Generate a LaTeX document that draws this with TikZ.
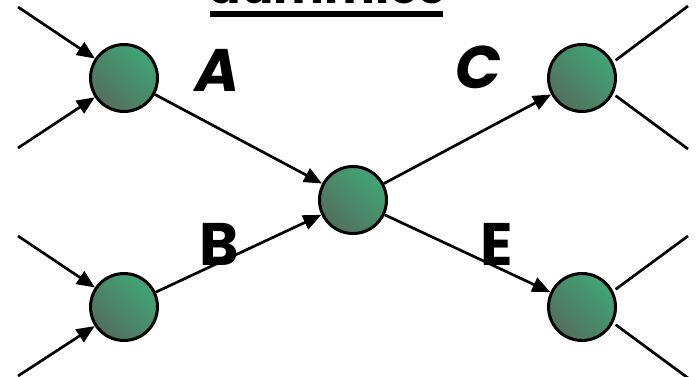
\documentclass[tikz,border=0pt]{standalone}
\usepackage{fontspec}
\setmainfont{Poppins}
\usetikzlibrary{arrows.meta}
\definecolor{glight}{RGB}{64,165,118}
\definecolor{gdark}{RGB}{84,110,94}
\tikzset{
  state/.style={circle, draw=black, line width=3pt, minimum size=67pt, inner sep=0pt,
    shading=axis, top color=glight, bottom color=gdark, shading angle=-45},
  arc/.style={line width=2.7pt, -{Triangle[length=18pt,width=15pt]}},
  plain/.style={line width=2.7pt},
  lbl/.style={font=\fontsize{60}{66}\selectfont\bfseries, anchor=base, inner sep=0pt},
  lbli/.style={lbl, font=\fontsize{60}{66}\selectfont\bfseries\itshape},
}
\begin{document}
\begin{tikzpicture}[x=1pt,y=-1pt]
\useasboundingbox (0,0) rectangle (698,377);
\clip (0,0) rectangle (698,377);
% title (cut off)
\node[lbl, font=\fontsize{48}{54}\selectfont\bfseries] (title) at (327,4) {dummies};
\fill (210,11) rectangle (443,17);
% nodes
\node[state] (tl) at (124,78) {};
\node[state] (bl) at (124,307) {};
\node[state] (c) at (353,200) {};
\node[state] (tr) at (582,78) {};
\node[state] (br) at (582,307) {};
% free ends
\coordinate (i1) at (18,7);
\coordinate (i2) at (18,148);
\coordinate (i3) at (18,236);
\coordinate (i4) at (18,376);
\coordinate (o1) at (688,6);
\coordinate (o2) at (688,149);
\coordinate (o3) at (688,236);
\coordinate (o4) at (688,378);
% connectors
\draw[arc] (i1) -- (tl);
\draw[arc] (i2) -- (tl);
\draw[arc] (i3) -- (bl);
\draw[arc] (i4) -- (bl);
\draw[arc] (tl) -- (c);
\draw[arc] (bl) -- (c);
\draw[arc] (c) -- (tr);
\draw[arc] (c) -- (br);
\draw[plain, shorten <=3pt] (tr.27) -- (o1);
\draw[plain, shorten <=3pt] (tr.-27) -- (o2);
\draw[plain, shorten <=3pt] (br.27) -- (o3);
\draw[plain, shorten <=3pt] (br.-27) -- (o4);
% labels
\node[lbli] (la) at (218,92) {A};
\node[lbl] (lb) at (219,265) {B};
\node[lbli] (lc) at (478,89) {C};
\node[lbl] (le) at (497,265) {E};
\end{tikzpicture}
\end{document}
